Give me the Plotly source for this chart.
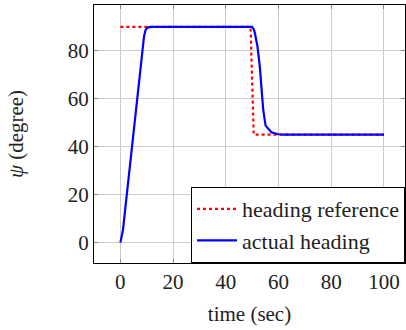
import plotly.graph_objects as go

# Heading reference (dotted red)
ref_t = [0, 49.4, 50.6, 100]
ref_psi = [90, 90, 45, 45]

# Actual heading (solid blue)
act_t = [0, 1, 2, 3, 4, 5, 6, 7, 8, 9, 9.6, 10.5, 12, 20, 30, 40, 50, 50.6, 51, 52, 52.9, 54.2, 55.1, 57.3, 59.9, 62, 70, 80, 90, 100]
act_psi = [0, 5.3, 15.5, 25.6, 35.7, 45.8, 55.9, 66, 76.1, 86.2, 88.8, 89.8, 90, 90, 90, 90, 90, 89, 87.6, 82, 73.6, 55.5, 48.8, 46, 45.2, 45, 45, 45, 45, 45]

x_ticks = [0, 20, 40, 60, 80, 100]
y_ticks = [0, 20, 40, 60, 80]

FONT = "Liberation Serif"
FS = 21

fig = go.Figure()
fig.add_trace(go.Scatter(x=ref_t, y=ref_psi, mode="lines", name="heading reference",
                         line=dict(color="#ff0000", width=2.2, dash="dot")))
fig.add_trace(go.Scatter(x=act_t, y=act_psi, mode="lines", name="actual heading",
                         line=dict(color="#0000ff", width=2.2)))

axis_common = dict(
    showgrid=True, gridcolor="#cccccc", gridwidth=1,
    showline=True, linecolor="black", linewidth=1, mirror="ticks",
    ticks="inside", ticklen=4, tickcolor="#888888",
    zeroline=False,
    tickfont=dict(family=FONT, size=FS, color="#222222"),
)

fig.update_xaxes(range=[-10, 108], tickvals=x_ticks, ticktext=[str(v) for v in x_ticks],
                 title=dict(text="time (sec)", font=dict(family=FONT, size=FS, color="#222222"), standoff=13),
                 **axis_common)
fig.update_yaxes(range=[-8.5, 99.1], tickvals=y_ticks, ticktext=[str(v) for v in y_ticks],
                 title=dict(text="<i>ψ</i> (degree)", font=dict(family=FONT, size=FS, color="#222222"), standoff=38),
                 **axis_common)

fig.update_layout(
    width=406, height=330,
    margin=dict(l=94, r=1, t=5, b=67, autoexpand=False),
    paper_bgcolor="white", plot_bgcolor="white",
    showlegend=True,
    legend=dict(x=1, y=0, xanchor="right", yanchor="bottom",
                bgcolor="white", bordercolor="black", borderwidth=1,
                font=dict(family=FONT, size=22, color="#222222"),
                itemwidth=40, tracegroupgap=0),
)

fig.write_html("out.html", config={"displayModeBar": False},
               post_script="document.body.style.margin='0';document.body.style.padding='0';")
